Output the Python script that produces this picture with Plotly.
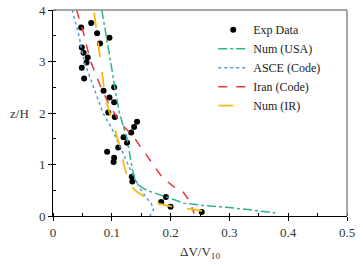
import plotly.graph_objects as go

# Experimental data
exp_v = [0.065, 0.048, 0.075, 0.096, 0.080, 0.049, 0.052, 0.059, 0.057, 0.049, 0.053,
         0.104, 0.086, 0.096, 0.104, 0.094, 0.105, 0.143, 0.138, 0.133, 0.120, 0.126,
         0.111, 0.092, 0.104, 0.103, 0.134, 0.135, 0.192, 0.184, 0.200, 0.253]
exp_z = [3.75, 3.66, 3.55, 3.46, 3.35, 3.27, 3.17, 3.08, 2.98, 2.88, 2.67,
         2.50, 2.43, 2.30, 2.21, 2.01, 1.92, 1.83, 1.73, 1.62, 1.53, 1.42,
         1.33, 1.25, 1.13, 1.05, 0.76, 0.67, 0.37, 0.27, 0.18, 0.08]

usa_z = [4.0, 3.5, 3.0, 2.5, 2.0, 1.5, 1.2, 0.9, 0.7, 0.6, 0.5, 0.44, 0.37, 0.3, 0.25, 0.2, 0.17, 0.12, 0.06]
usa_v = [0.083, 0.091, 0.098, 0.105, 0.113, 0.126, 0.131, 0.135, 0.140, 0.145, 0.159, 0.176, 0.193,
         0.210, 0.222, 0.260, 0.295, 0.335, 0.378]

asce_z = [4.0, 3.5, 3.0, 2.5, 2.0, 1.7, 1.2, 0.76, 0.5, 0.37, 0.25, 0.12, 0.05, 0.0]
asce_v = [0.033, 0.044, 0.053, 0.069, 0.085, 0.100, 0.120, 0.137, 0.150, 0.158, 0.167, 0.171, 0.167, 0.165]

iran_z = [4.0, 3.55, 3.03, 2.54, 2.19, 1.8, 1.54, 1.02, 0.76, 0.57, 0.47, 0.28, 0.12, 0.05]
iran_v = [0.040, 0.052, 0.063, 0.080, 0.094, 0.115, 0.137, 0.170, 0.185, 0.205, 0.221, 0.233, 0.238, 0.240]

ir_z = [3.95, 3.09, 2.38, 2.09, 1.7, 1.35, 0.93, 0.7, 0.57, 0.45, 0.37, 0.25, 0.18, 0.12, 0.04]
ir_v = [0.070, 0.080, 0.088, 0.094, 0.105, 0.114, 0.122, 0.128, 0.133, 0.145, 0.156, 0.176, 0.204, 0.244, 0.276]

x_ticks = [0, 0.1, 0.2, 0.3, 0.4, 0.5]
x_tick_labels = ["0", "0.1", "0.2", "0.3", "0.4", "0.5"]
y_ticks = [0, 1, 2, 3, 4]
y_tick_labels = ["0", "1", "2", "3", "4"]

FONT = "Liberation Serif"

fig = go.Figure()
fig.add_trace(go.Scatter(x=exp_v, y=exp_z, mode="markers", name="Exp Data",
                         marker=dict(color="black", size=6)))
fig.add_trace(go.Scatter(x=usa_v, y=usa_z, mode="lines", name="Num (USA)",
                         line=dict(color="#2fb58a", width=1.5, dash="dashdot")))
fig.add_trace(go.Scatter(x=asce_v, y=asce_z, mode="lines", name="ASCE (Code)",
                         line=dict(color="#5b9bd5", width=1.5, dash="dot")))
fig.add_trace(go.Scatter(x=iran_v, y=iran_z, mode="lines", name="Iran (Code)",
                         line=dict(color="#e8363a", width=1.5, dash="dash")))
fig.add_trace(go.Scatter(x=ir_v, y=ir_z, mode="lines", name="Num (IR)",
                         line=dict(color="#f5bb12", width=1.8, dash="longdash")))

fig.update_layout(
    width=363, height=266,
    margin=dict(l=53, r=16, t=10, b=50, autoexpand=False),
    paper_bgcolor="white", plot_bgcolor="white",
    font=dict(family=FONT, size=13, color="#333"),
    showlegend=True,
    legend=dict(x=0.545, y=0.975, xanchor="left", yanchor="top",
                bgcolor="rgba(0,0,0,0)", font=dict(family=FONT, size=12, color="#222"),
                tracegroupgap=0, itemwidth=30),
    shapes=[
        dict(type="line", xref="paper", yref="paper", x0=0, x1=1, y0=1, y1=1,
             line=dict(color="#888", width=1.5)),
        dict(type="line", xref="paper", yref="paper", x0=1, x1=1, y0=0, y1=1,
             line=dict(color="#888", width=1.5)),
    ],
    annotations=[
        dict(text="z/H", xref="paper", yref="y", x=0, y=2, xanchor="right",
             xshift=-22, showarrow=False, font=dict(family=FONT, size=13, color="#333")),
    ],
)

fig.update_xaxes(range=[0, 0.5], tickvals=x_ticks, ticktext=x_tick_labels, automargin=False,
                 showgrid=False, zeroline=False, showline=True, linecolor="black", linewidth=1,
                 ticks="outside", ticklen=4, tickcolor="black",
                 minor=dict(dtick=0.05, ticks="inside", ticklen=3, tickcolor="black", showgrid=False),
                 title=dict(text="ΔV/V<sub>10</sub>", font=dict(family=FONT, size=13, color="#333"),
                            standoff=8))
fig.update_yaxes(range=[0, 4], tickvals=y_ticks, ticktext=y_tick_labels, automargin=False,
                 showgrid=False, zeroline=False, showline=True, linecolor="black", linewidth=1,
                 ticks="outside", ticklen=4, tickcolor="black",
                 minor=dict(dtick=0.5, ticks="inside", ticklen=3, tickcolor="black", showgrid=False))

fig.write_html("out.html")
